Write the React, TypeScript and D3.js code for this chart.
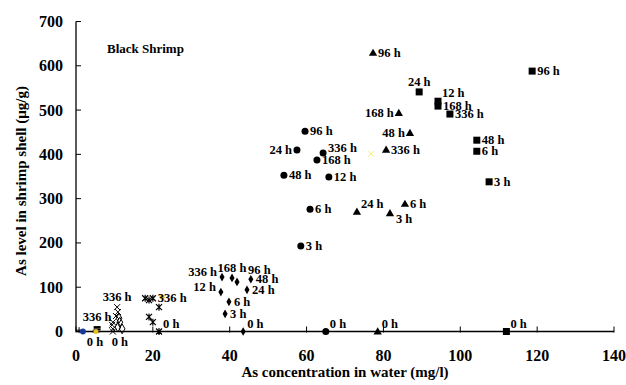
import React from 'react';
import * as d3 from 'd3';

const xTicks = [0, 20, 40, 60, 80, 100, 120, 140];
const yTicks = [0, 100, 200, 300, 400, 500, 600, 700];

// Squares
const sqX = [112, 107.5, 104.3, 94.2, 89.3, 104.3, 118.7, 94.2, 97.3];
const sqY = [0, 338, 407, 520, 541, 432, 588, 509, 491];
const sqLabel = ['0 h', '3 h', '6 h', '12 h', '24 h', '48 h', '96 h', '168 h', '336 h'];

// Triangles
const triX = [78.5, 81.7, 85.6, 73.1, 86.9, 77.3, 84, 80.7];
const triY = [0, 267, 288, 270, 448, 629, 493, 410];
const triLabel = ['0 h', '3 h', '6 h', '24 h', '48 h', '96 h', '168 h', '336 h'];

// Circles
const circX = [65, 58.5, 60.9, 65.8, 57.5, 54.1, 59.6, 62.7, 64.3];
const circY = [0, 193, 276, 349, 410, 353, 452, 387, 403];
const circLabel = ['0 h', '3 h', '6 h', '12 h', '24 h', '48 h', '96 h', '168 h', '336 h'];

// Diamonds
const diaX = [43.5, 38.8, 39.8, 37.7, 44.5, 45.5, 41.9, 40.6, 38];
const diaY = [0, 40, 67, 89, 94, 118, 112, 121, 123];
const diaLabel = ['0 h', '3 h', '6 h', '12 h', '24 h', '48 h', '96 h', '168 h', '336 h'];

// Asterisks
const starX = [21.6, 20, 19, 21.6, 18, 19, 20];
const starY = [0, 21, 33, 55, 75, 71, 75];
const starLabel = ['0 h', '', '', '', '', '', '336 h'];

// Crosses
const crossX = [9.6, 9.6, 9.4, 9.6, 10.4, 10.9, 10.7];
const crossY = [0, 6, 15, 21, 35, 44, 55];
const crossLabel = ['0 h', '', '', '', '', '', '336 h'];

// Open diamonds
const odX = [12, 10.9, 11.4, 11.2];
const odY = [6, 10, 21, 30];

// Dashes
const dashX = [5.2, 5.5, 5.5];
const dashY = [0, 5, 10];
const dashLabel = ['0 h', '', '336 h'];

// Misc
const blueX = [1.8];
const blueY = [0];
const plusX = [0.8];
const plusY = [3];
const yelCrossX = [76.8];
const yelCrossY = [401];
const yelDotX = [22.4, 5.2];
const yelDotY = [78, 0];

// label placement (layout only)
const sqPos = ['tr', 'r', 'r', 'tr', 't', 'r', 'r', 'r', 'r'];
const triPos = ['tr', 'br', 'r', 'tr', 'l', 'r', 'l', 'r'];
const circPos = ['tr', 'r', 'r', 'r', 'l', 'r', 'r', 'r', 'ur'];
const diaPos = ['tr', 'r', 'r', 'ul', 'r', 'r', 'tr2', 't', 'ul'];
const starPos = ['tr', '', '', '', '', '', 'r'];
const crossPos = ['b2', '', '', '', '', '', 't'];
const dashPos = ['b', '', 't'];

const place: Record<string, [number, number, string]> = {
  r: [5, 4, 'start'],
  l: [-5, 4, 'end'],
  t: [0, -6, 'middle'],
  b: [-1, 14, 'middle'],
  b2: [7, 14, 'middle'],
  tr: [4, -4, 'start'],
  tr2: [11, -8, 'start'],
  br: [6, 10, 'start'],
  ur: [5, -1, 'start'],
  ul: [-5, -1, 'end'],
};

const W = 626;
const H = 385;
const FONT = '"Liberation Serif", "Times New Roman", serif';

export default function App() {
  const x = d3.scaleLinear().domain([0, 140]).range([76, 614]);
  const y = d3.scaleLinear().domain([0, 700]).range([331.5, 21.5]);

  const labels = (xs: number[], ys: number[], ls: string[], ps: string[], key: string) =>
    xs.map((xv, i) => {
      if (!ls[i]) return null;
      const p = place[ps[i]] || place.r;
      return (
        <text
          key={key + i}
          x={x(xv) + p[0]}
          y={y(ys[i]) + p[1]}
          textAnchor={p[2] as any}
          fontSize={12.5}
          fontWeight="bold"
          fontFamily={FONT}
        >
          {ls[i]}
        </text>
      );
    });

  const tri = d3.symbol().type(d3.symbolTriangle).size(30)()!;
  const dia = d3.symbol().type(d3.symbolDiamond).size(22)()!;
  const odia = d3.symbol().type(d3.symbolDiamond).size(28)()!;

  return (
    <svg width={W} height={H} style={{ position: 'absolute', left: 0, top: 0, background: '#fff' }}>
      <rect width={W} height={H} fill="#fff" />
      {/* axes */}
      <line x1={x(0)} x2={x(140)} y1={y(0)} y2={y(0)} stroke="#000" strokeWidth={1.3} />
      <line x1={x(0)} x2={x(0)} y1={y(0)} y2={y(700)} stroke="#000" strokeWidth={1.3} />
      {xTicks.map((t) => (
        <g key={'xt' + t}>
          <line x1={x(t)} x2={x(t)} y1={y(0) - 5} y2={y(0) + 1} stroke="#000" strokeWidth={1} />
          <text x={x(t)} y={361} textAnchor="middle" fontSize={16} fontWeight="bold" fontFamily={FONT}>
            {t}
          </text>
        </g>
      ))}
      {yTicks.map((t) => (
        <g key={'yt' + t}>
          <line x1={x(0)} x2={x(0) + 5} y1={y(t)} y2={y(t)} stroke="#000" strokeWidth={1} />
          <text x={63} y={y(t) + 5.5} textAnchor="end" fontSize={16} fontWeight="bold" fontFamily={FONT}>
            {t}
          </text>
        </g>
      ))}
      <text x={345} y={377} textAnchor="middle" fontSize={15} fontWeight="bold" fontFamily={FONT}>
        As concentration in water (mg/l)
      </text>
      <text
        transform={`translate(26,181) rotate(-90)`}
        textAnchor="middle"
        fontSize={15}
        fontWeight="bold"
        fontFamily={FONT}
      >
        As level in shrimp shell (μg/g)
      </text>
      <text x={107} y={53} fontSize={13} fontWeight="bold" fontFamily={FONT}>
        Black Shrimp
      </text>

      {/* markers */}
      {yelCrossX.map((v, i) => (
        <path
          key={'yc' + i}
          d={`M${x(v) - 3},${y(yelCrossY[i]) - 3}L${x(v) + 3},${y(yelCrossY[i]) + 3}M${x(v) - 3},${y(yelCrossY[i]) + 3}L${x(v) + 3},${y(yelCrossY[i]) - 3}`}
          stroke="#f5f07a"
          strokeWidth={1}
        />
      ))}
      {sqX.map((v, i) => (
        <rect key={'sq' + i} x={x(v) - 3.5} y={y(sqY[i]) - 3.5} width={7} height={7} fill="#000" />
      ))}
      {triX.map((v, i) => (
        <path key={'tr' + i} d={tri} transform={`translate(${x(v)},${y(triY[i]) + 0.5})`} fill="#000" />
      ))}
      {circX.map((v, i) => (
        <circle key={'ci' + i} cx={x(v)} cy={y(circY[i])} r={3.5} fill="#000" />
      ))}
      {diaX.map((v, i) => (
        <path key={'di' + i} d={dia} transform={`translate(${x(v)},${y(diaY[i])})`} fill="#000" />
      ))}
      {starX.map((v, i) => {
        const cx = x(v);
        const cy = y(starY[i]);
        return (
          <path
            key={'st' + i}
            d={`M${cx - 3},${cy - 3}L${cx + 3},${cy + 3}M${cx - 3},${cy + 3}L${cx + 3},${cy - 3}M${cx},${cy - 3.5}L${cx},${cy + 3.5}`}
            stroke="#000"
            strokeWidth={1.2}
          />
        );
      })}
      {crossX.map((v, i) => {
        const cx = x(v);
        const cy = y(crossY[i]);
        return (
          <path
            key={'cr' + i}
            d={`M${cx - 3},${cy - 3}L${cx + 3},${cy + 3}M${cx - 3},${cy + 3}L${cx + 3},${cy - 3}`}
            stroke="#000"
            strokeWidth={1}
          />
        );
      })}
      {odX.map((v, i) => (
        <path
          key={'od' + i}
          d={odia}
          transform={`translate(${x(v)},${y(odY[i])})`}
          fill="none"
          stroke="#000"
          strokeWidth={1}
        />
      ))}
      {dashX.map((v, i) => (
        <line
          key={'da' + i}
          x1={x(v) - 3.5}
          x2={x(v) + 3.5}
          y1={y(dashY[i])}
          y2={y(dashY[i])}
          stroke="#000"
          strokeWidth={2}
        />
      ))}
      {plusX.map((v, i) => (
        <path
          key={'pl' + i}
          d={`M${x(v) - 3},${y(plusY[i])}L${x(v) + 3},${y(plusY[i])}M${x(v)},${y(plusY[i]) - 3}L${x(v)},${y(plusY[i]) + 3}`}
          stroke="#000"
          strokeWidth={1}
        />
      ))}
      {blueX.map((v, i) => (
        <circle key={'bl' + i} cx={x(v)} cy={y(blueY[i])} r={3} fill="#1a3a9a" />
      ))}
      {yelDotX.map((v, i) => (
        <circle key={'yd' + i} cx={x(v)} cy={y(yelDotY[i])} r={2.5} fill="#e8c020" />
      ))}

      {/* labels */}
      {labels(sqX, sqY, sqLabel, sqPos, 'lsq')}
      {labels(triX, triY, triLabel, triPos, 'ltr')}
      {labels(circX, circY, circLabel, circPos, 'lci')}
      {labels(diaX, diaY, diaLabel, diaPos, 'ldi')}
      {labels(starX, starY, starLabel, starPos, 'lst')}
      {labels(crossX, crossY, crossLabel, crossPos, 'lcr')}
      {labels(dashX, dashY, dashLabel, dashPos, 'lda')}
    </svg>
  );
}
